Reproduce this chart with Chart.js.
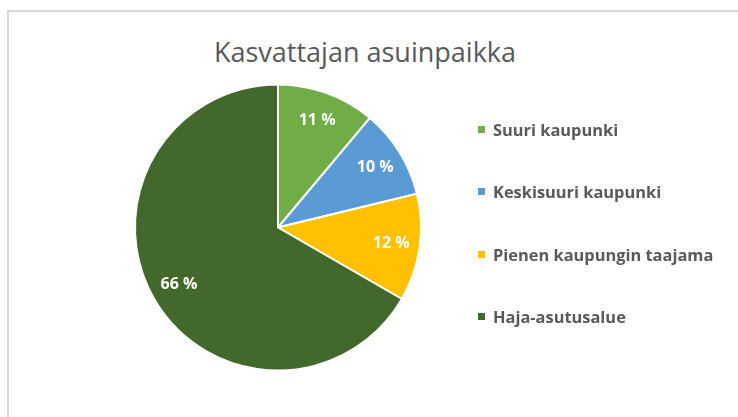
<!DOCTYPE html>
<html>
<head>
<meta charset="utf-8">
<script src="https://cdn.jsdelivr.net/npm/chart.js@4"></script>
<style>
  html, body { margin: 0; padding: 0; background: #fff; }
  body { width: 738px; height: 417px; position: relative; overflow: hidden; }
  #frame {
    position: absolute; left: 7px; top: 10px;
    width: 800px; height: 500px;
    border: 2px solid #d9d9d9;
  }
  #title {
    position: absolute; left: 0; top: 36px; width: 730px;
    text-align: center;
    font-family: "Open Sans", sans-serif; font-size: 27px; line-height: 32px;
    color: #595959;
  }
  #wrap { position: absolute; left: 0; top: 0; width: 738px; height: 417px; }
  #legend {
    position: absolute; left: 478px; top: 97.75px;
    font-family: "Open Sans", sans-serif; font-size: 16.4px; font-weight: bold;
    color: #595959;
  }
  #legend .row { display: flex; align-items: center; height: 62.5px; white-space: nowrap; }
  #legend .box { width: 7px; height: 7px; margin-right: 8px; flex: none; }
</style>
</head>
<body>
<div id="frame"></div>
<div id="title"></div>
<div id="wrap"><canvas id="pieChart"></canvas></div>
<div id="legend"></div>
<script>
const categories = ["Suuri kaupunki", "Keskisuuri kaupunki", "Pienen kaupungin taajama", "Haja-asutusalue"];
const shares = [11, 10, 12, 66];
const sliceColors = ["#70ad47", "#5b9bd5", "#ffc000", "#43682b"];
const chartTitle = "Kasvattajan asuinpaikka";

document.getElementById("title").textContent = chartTitle;

// legend rows built from the same arrays as the pie
const legendEl = document.getElementById("legend");
categories.forEach((name, i) => {
  const row = document.createElement("div");
  row.className = "row";
  const box = document.createElement("span");
  box.className = "box";
  box.style.background = sliceColors[i];
  const label = document.createElement("span");
  label.textContent = name;
  row.appendChild(box);
  row.appendChild(label);
  legendEl.appendChild(row);
});

// white percentage labels inside the slices
const sliceLabels = {
  id: "sliceLabels",
  afterDatasetsDraw(chart) {
    const ctx = chart.ctx;
    const meta = chart.getDatasetMeta(0);
    ctx.save();
    ctx.font = "bold 16px 'Open Sans'";
    ctx.fillStyle = "#ffffff";
    ctx.textAlign = "center";
    ctx.textBaseline = "middle";
    meta.data.forEach((arc, i) => {
      const mid = (arc.startAngle + arc.endAngle) / 2;
      const r = arc.outerRadius * 0.8;
      ctx.fillText(shares[i] + " %", arc.x + Math.cos(mid) * r, arc.y + Math.sin(mid) * r);
    });
    ctx.restore();
  },
};

new Chart(document.getElementById("pieChart"), {
  type: "pie",
  data: {
    labels: categories,
    datasets: [
      {
        data: shares,
        backgroundColor: sliceColors,
        borderColor: "#ffffff",
        borderWidth: 2,
      },
    ],
  },
  options: {
    responsive: true,
    maintainAspectRatio: false,
    animation: false,
    layout: { padding: { left: 134, right: 316, top: 83, bottom: 45 } },
    plugins: {
      title: { display: false },
      legend: { display: false },
      tooltip: { enabled: false },
    },
  },
  plugins: [sliceLabels],
});
</script>
</body>
</html>
